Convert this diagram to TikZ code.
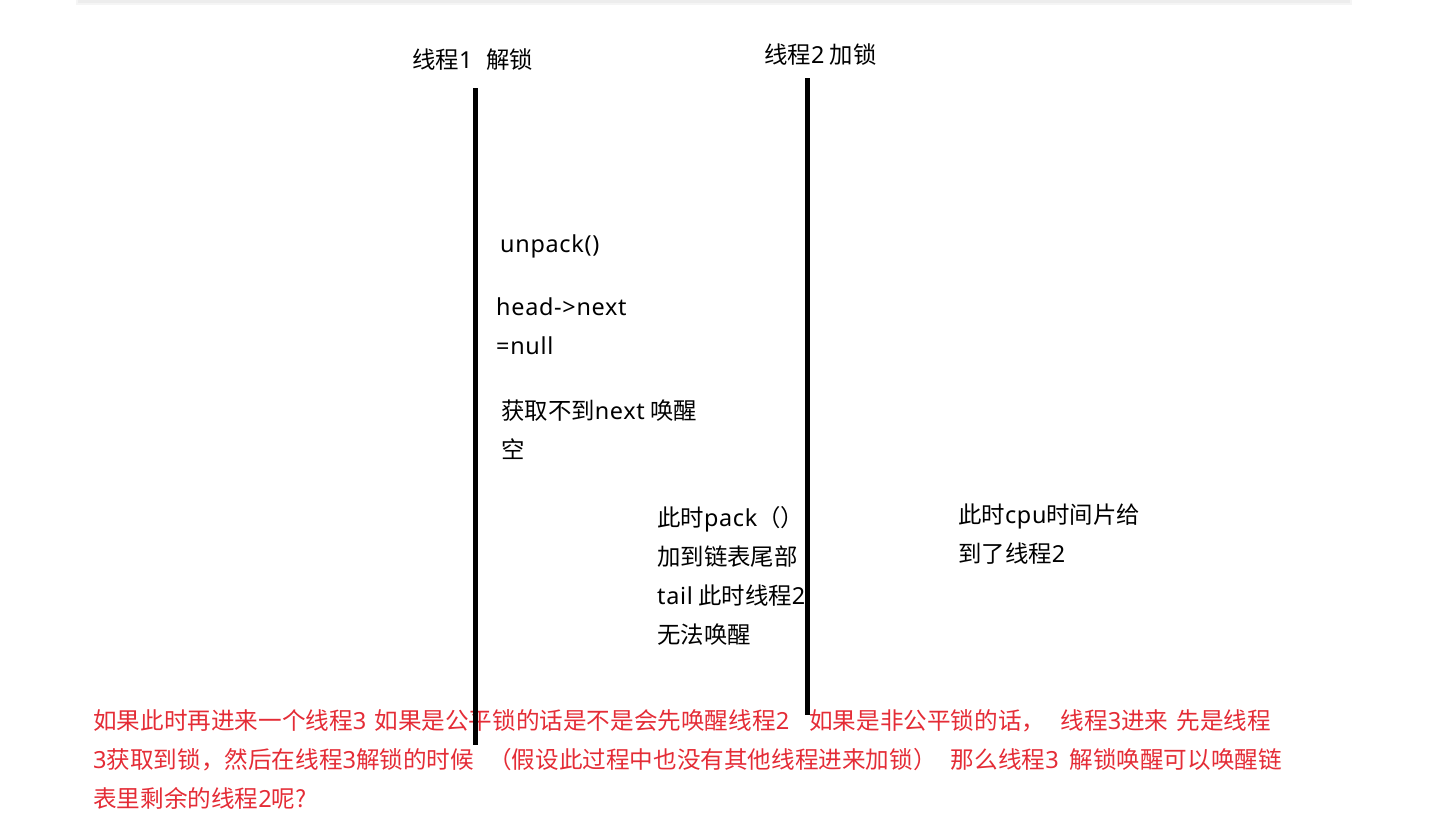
\documentclass[tikz,border=0pt]{standalone}
\usepackage{fontspec}
\setmainfont{Noto Sans CJK SC}
\newfontfamily\lfont{Noto Sans}[LetterSpace=3]
\newcommand\la[1]{{\lfont #1}}
\definecolor{redtxt}{RGB}{228,44,54}
\begin{document}
\begin{tikzpicture}[x=1pt,y=-1pt,
  txt/.style={anchor=base west,inner sep=0pt,font=\fontsize{23.4}{39}\selectfont,align=left},
  redpara/.style={txt,text=redtxt,font=\fontsize{23.6}{39}\selectfont},
  lifeline/.style={line width=5pt,black}]
\useasboundingbox (0,0) rectangle (1443,820);
% top faint bar
\fill[black!4] (76,0) rectangle (1352,5);
\fill[black!7] (78,0) rectangle (1350,2.5);
% headings (anchor = baseline of last line)
\node[txt] (h1) at (412,68) {线程\la{1}\hspace{0.6em}解锁};
\node[txt] (h2) at (764,63) {线程\la{2} 加锁};
% thread 1 texts
\node[txt] (t1) at (500,252) {\la{unpack()}};
\node[txt] (t2) at (496,354) {\la{head-{}>next}\\\la{=null}};
\node[txt] (t3) at (501,458) {获取不到\la{next} 唤醒\\空};
% middle texts
\node[txt] (t4) at (657,643) {此时\la{pack}（）\\加到链表尾部\\\la{tail} 此时线程\la{2}\\无法唤醒};
\node[txt] (t5) at (958,562) {此时\la{cpu}时间片给\\到了线程\la{2}};
% red paragraph
\node[redpara] (q) at (93,807) {如果此时再进来一个线程\la{3}\hspace{0.35em}如果是公平锁的话是不是会先唤醒线程\la{2}\hspace{0.85em}如果是非公平锁的话，\hspace{0.65em}线程\la{3}进来\hspace{0.35em}先是线程\\\la{3}获取到锁，然后在线程\la{3}解锁的时候\hspace{0.6em}（假设此过程中也没有其他线程进来加锁）\hspace{0.6em}那么线程\la{3}\hspace{0.45em}解锁唤醒可以唤醒链\\表里剩余的线程\la{2}呢?};
% lifelines
\coordinate (a1) at (475,88);
\coordinate (a2) at (475,745);
\coordinate (b1) at (807,78);
\coordinate (b2) at (807,715);
\draw[lifeline] (a1) -- (a2);
\draw[lifeline] (b1) -- (b2);
\end{tikzpicture}
\end{document}
